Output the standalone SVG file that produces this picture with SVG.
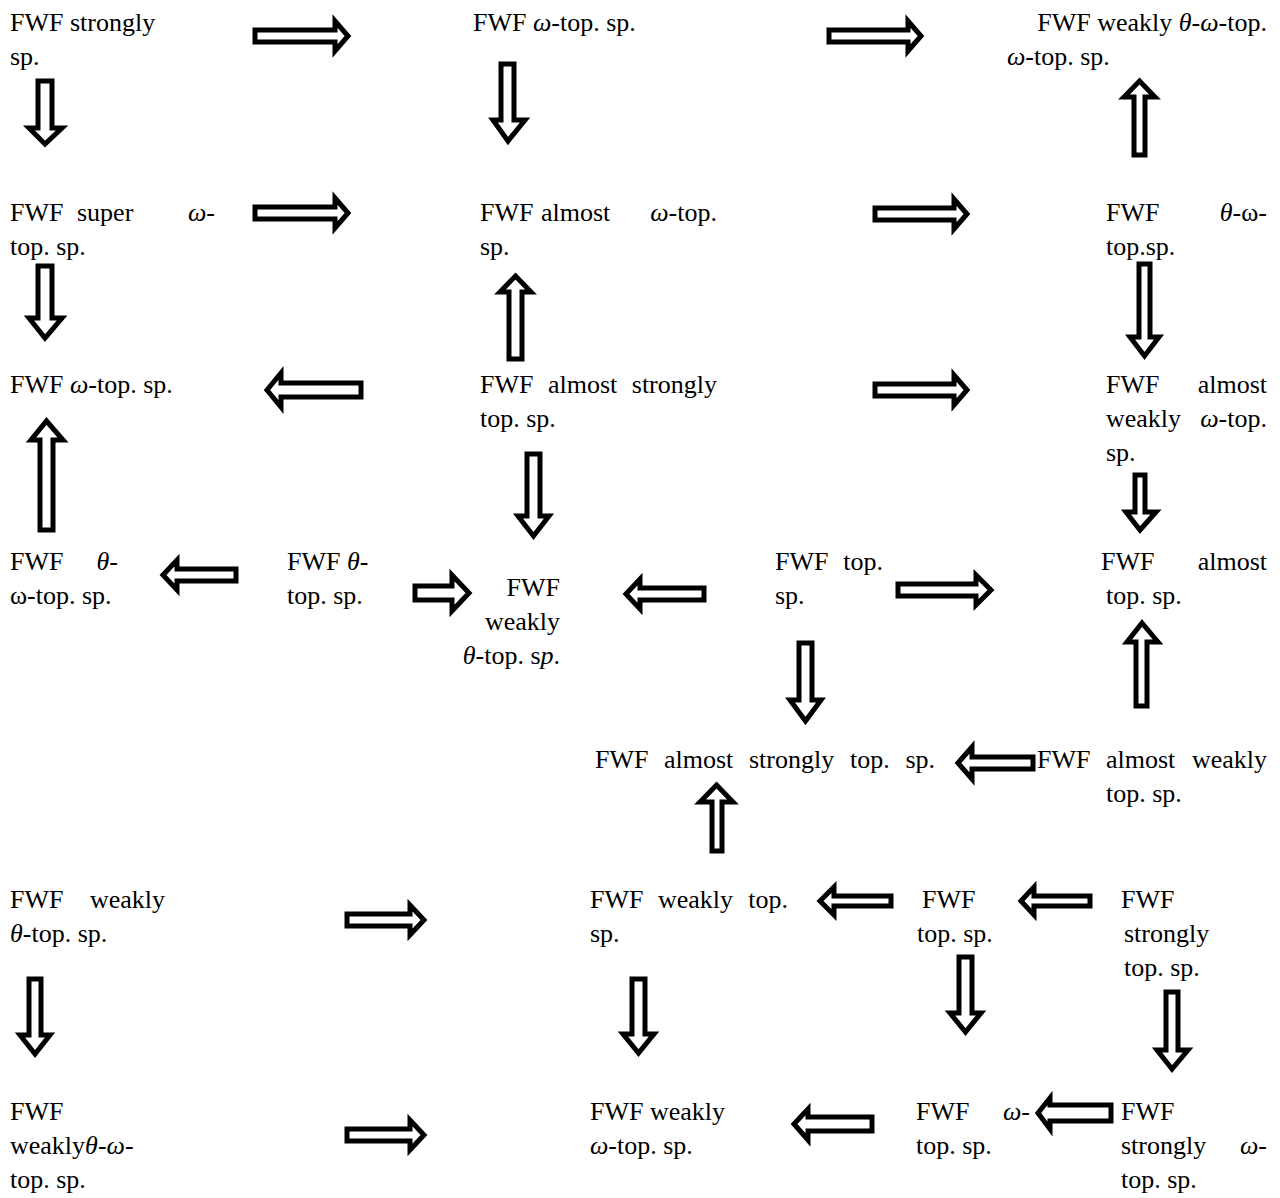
<svg xmlns="http://www.w3.org/2000/svg" width="1280" height="1198" viewBox="0 0 1280 1198">
<style>
.t{font-family:"Liberation Serif","Times New Roman",serif;font-size:26px;fill:#000}
.m{font-style:italic}
.e{text-anchor:end}
.a{fill:#fff;stroke:#000;stroke-width:5;stroke-linejoin:miter}
</style>
<rect width="1280" height="1198" fill="#fff"/>
<g id="n1" class="t"><text x="10" y="31">FWF strongly</text><text x="10" y="65">sp.</text></g>
<g id="n2" class="t"><text x="473" y="31">FWF <tspan class="m">ω</tspan>-top. sp.</text></g>
<g id="n3" class="t"><text x="1267" y="31" class="e">FWF weakly <tspan class="m">θ</tspan>-<tspan class="m">ω</tspan>-top.</text><text x="1007" y="65"><tspan class="m">ω</tspan>-top. sp.</text></g>
<g id="n4" class="t"><text x="10" y="221">FWF</text><text x="77" y="221">super</text><text x="215" y="221" class="e"><tspan class="m">ω</tspan>-</text><text x="10" y="255">top. sp.</text></g>
<g id="n5" class="t"><text x="480" y="221">FWF</text><text x="541" y="221">almost</text><text x="717" y="221" class="e"><tspan class="m">ω</tspan>-top.</text><text x="480" y="255">sp.</text></g>
<g id="n6" class="t"><text x="1106" y="221">FWF</text><text x="1267" y="221" class="e"><tspan class="m">θ</tspan>-ω-</text><text x="1106" y="255">top.sp.</text></g>
<g id="n7" class="t"><text x="10" y="393">FWF <tspan class="m">ω</tspan>-top. sp.</text></g>
<g id="n8" class="t"><text x="480" y="393">FWF</text><text x="548" y="393">almost</text><text x="717" y="393" class="e">strongly</text><text x="480" y="427">top. sp.</text></g>
<g id="n9" class="t"><text x="1106" y="393">FWF</text><text x="1267" y="393" class="e">almost</text><text x="1106" y="427">weakly</text><text x="1267" y="427" class="e"><tspan class="m">ω</tspan>-top.</text><text x="1106" y="461">sp.</text></g>
<g id="n10" class="t"><text x="10" y="570">FWF</text><text x="118" y="570" class="e"><tspan class="m">θ</tspan>-</text><text x="10" y="604">ω-top. sp.</text></g>
<g id="n11" class="t"><text x="287" y="570">FWF <tspan class="m">θ</tspan>-</text><text x="287" y="604">top. sp.</text></g>
<g id="n12" class="t"><text x="560" y="596" class="e">FWF</text><text x="560" y="630" class="e">weakly</text><text x="560" y="664" class="e"><tspan class="m">θ</tspan>-top. s<tspan class="m">p</tspan>.</text></g>
<g id="n13" class="t"><text x="775" y="570">FWF</text><text x="883" y="570" class="e">top.</text><text x="775" y="604">sp.</text></g>
<g id="n14" class="t"><text x="1101" y="570">FWF</text><text x="1267" y="570" class="e">almost</text><text x="1106" y="604">top. sp.</text></g>
<g id="n15" class="t"><text x="595" y="768">FWF</text><text x="664" y="768">almost</text><text x="749" y="768">strongly</text><text x="850" y="768">top.</text><text x="935" y="768" class="e">sp.</text></g>
<g id="n16" class="t"><text x="1037" y="768">FWF</text><text x="1106" y="768">almost</text><text x="1267" y="768" class="e">weakly</text><text x="1106" y="802">top. sp.</text></g>
<g id="n17" class="t"><text x="10" y="908">FWF</text><text x="165" y="908" class="e">weakly</text><text x="10" y="942"><tspan class="m">θ</tspan>-top. sp.</text></g>
<g id="n18" class="t"><text x="590" y="908">FWF</text><text x="658" y="908">weakly</text><text x="788" y="908" class="e">top.</text><text x="590" y="942">sp.</text></g>
<g id="n19" class="t"><text x="922" y="908">FWF</text><text x="917" y="942">top. sp.</text></g>
<g id="n20" class="t"><text x="1121" y="908">FWF</text><text x="1124" y="942">strongly</text><text x="1124" y="976">top. sp.</text></g>
<g id="n21" class="t"><text x="10" y="1120">FWF</text><text x="10" y="1154">weakly<tspan class="m">θ</tspan>-<tspan class="m">ω</tspan>-</text><text x="10" y="1188">top. sp.</text></g>
<g id="n22" class="t"><text x="590" y="1120">FWF weakly</text><text x="590" y="1154"><tspan class="m">ω</tspan>-top. sp.</text></g>
<g id="n23" class="t"><text x="916" y="1120">FWF</text><text x="1030" y="1120" class="e"><tspan class="m">ω</tspan>-</text><text x="916" y="1154">top. sp.</text></g>
<g id="n24" class="t"><text x="1121" y="1120">FWF</text><text x="1121" y="1154">strongly</text><text x="1267" y="1154" class="e"><tspan class="m">ω</tspan>-</text><text x="1121" y="1188">top. sp.</text></g>
<g id="connectors" class="a">
<polygon points="255,30 335,30 335,21 348,36 335,51 335,42 255,42"/>
<polygon points="829,30 908,30 908,21 921,36 908,51 908,42 829,42"/>
<polygon points="38,81 52,81 52,128 62,128 45,144 29,128 38,128"/>
<polygon points="501,64 514,64 514,120 525,120 508,141 493,120 501,120"/>
<polygon points="1139.5,81 1155,97 1145,97 1145,155 1134,155 1134,97 1124,97"/>
<polygon points="255,207 335,207 335,198 348,213 335,228 335,219 255,219"/>
<polygon points="875,208 954,208 954,199 967,214 954,229 954,220 875,220"/>
<polygon points="38,266 52,266 52,318 62,318 45,338 29,318 38,318"/>
<polygon points="515.5,276 531,292 522,292 522,359 509,359 509,292 500,292"/>
<polygon points="1139,264 1150,264 1150,337 1159,337 1144.5,356 1130,337 1139,337"/>
<polygon points="267,390 281,373 281,383 361,383 361,397 281,397 281,407"/>
<polygon points="875,384 954,384 954,375 967,390 954,405 954,396 875,396"/>
<polygon points="527,454 540,454 540,516 549,516 533.5,536 518,516 527,516"/>
<polygon points="1135,475 1145,475 1145,512 1156,512 1140,530 1126,512 1135,512"/>
<polygon points="46.5,421 63,440 53,440 53,530 40,530 40,440 31,440"/>
<polygon points="163,575 177,560 177,569 236,569 236,581 177,581 177,590"/>
<polygon points="415,586 452,586 452,575 469,593 452,611 452,600 415,600"/>
<polygon points="626,594 640,579 640,588 704,588 704,600 640,600 640,609"/>
<polygon points="898,584 976,584 976,575 991,590 976,605 976,596 898,596"/>
<polygon points="799,643 812,643 812,700 821,700 805.5,721 790,700 799,700"/>
<polygon points="1142,623 1158,642 1147,642 1147,706 1136,706 1136,642 1127,642"/>
<polygon points="958,763 972,747 972,757 1033,757 1033,769 972,769 972,779"/>
<polygon points="716.5,785 733,802 722,802 722,851 712,851 712,802 700,802"/>
<polygon points="347,914 410,914 410,905 424,920 410,935 410,926 347,926"/>
<polygon points="820,901 834,887 834,896 891,896 891,906 834,906 834,915"/>
<polygon points="1021,901 1034,887 1034,896 1090,896 1090,906 1034,906 1034,915"/>
<polygon points="29,979 41,979 41,1035 50,1035 35,1054 20,1035 29,1035"/>
<polygon points="632,979 645,979 645,1034 654,1034 638.5,1053 623,1034 632,1034"/>
<polygon points="959,957 972,957 972,1013 981,1013 965.5,1032 950,1013 959,1013"/>
<polygon points="1166,992 1178,992 1178,1050 1188,1050 1172,1069 1157,1050 1166,1050"/>
<polygon points="347,1129 410,1129 410,1120 424,1135 410,1150 410,1141 347,1141"/>
<polygon points="794,1124 808,1109 808,1117 872,1117 872,1131 808,1131 808,1140"/>
<polygon points="1038,1113 1050,1098 1050,1105 1111,1105 1111,1121 1050,1121 1050,1129"/>
</g>
</svg>
